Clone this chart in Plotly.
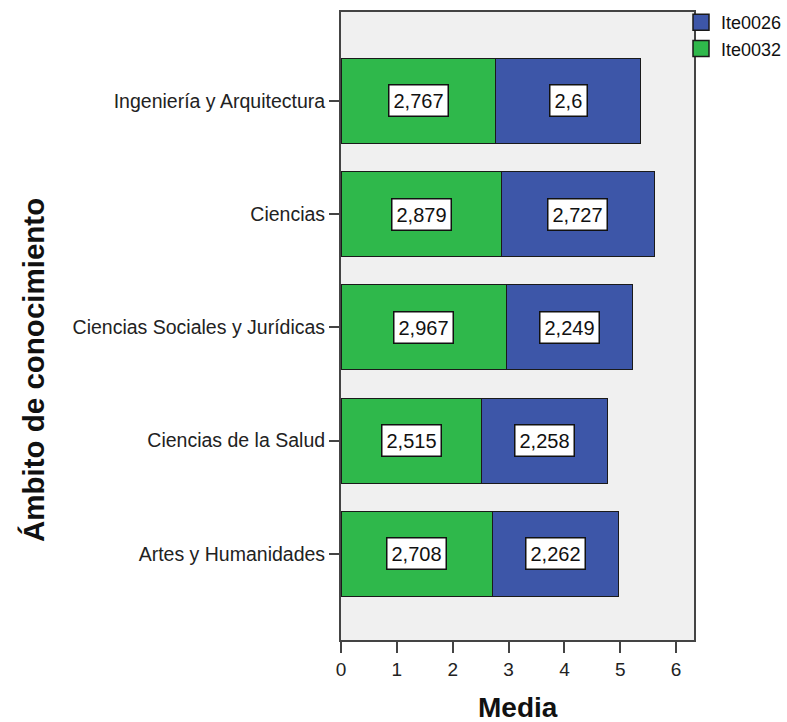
import plotly.graph_objects as go

categories = ["Artes y Humanidades", "Ciencias de la Salud", "Ciencias Sociales y Jurídicas",
              "Ciencias", "Ingeniería y Arquitectura"]
ite0032 = [2.708, 2.515, 2.967, 2.879, 2.767]
ite0026 = [2.262, 2.258, 2.249, 2.727, 2.6]
label32 = ["2,708", "2,515", "2,967", "2,879", "2,767"]
label26 = ["2,262", "2,258", "2,249", "2,727", "2,6"]
x_ticks = [0, 1, 2, 3, 4, 5, 6]

GREEN = "#2fb84b"
BLUE = "#3d56a8"
FONT = "Liberation Sans, Arial, sans-serif"

fig = go.Figure()
fig.add_trace(go.Bar(y=categories, x=ite0032, orientation="h", name="Ite0032",
                     marker=dict(color=GREEN, line=dict(color="#1a1a1a", width=1)),
                     width=0.75, showlegend=False, hoverinfo="skip"))
fig.add_trace(go.Bar(y=categories, x=ite0026, base=ite0032, orientation="h", name="Ite0026",
                     marker=dict(color=BLUE, line=dict(color="#1a1a1a", width=1)),
                     width=0.75, showlegend=False, hoverinfo="skip"))
# legend swatches (larger squares like the reference)
fig.add_trace(go.Scatter(x=[None], y=[None], mode="markers", name="Ite0026", legendrank=1,
                         marker=dict(symbol="square", size=16, color=BLUE,
                                     line=dict(color="#1a1a1a", width=1.5))))
fig.add_trace(go.Scatter(x=[None], y=[None], mode="markers", name="Ite0032", legendrank=2,
                         marker=dict(symbol="square", size=16, color=GREEN,
                                     line=dict(color="#1a1a1a", width=1.5))))

for c, a, b, la, lb in zip(categories, ite0032, ite0026, label32, label26):
    fig.add_annotation(x=a / 2, y=c, text=la, showarrow=False,
                       font=dict(family=FONT, size=20, color="#111"),
                       bgcolor="white", bordercolor="#111", borderwidth=1.5, borderpad=4)
    fig.add_annotation(x=a + b / 2, y=c, text=lb, showarrow=False,
                       font=dict(family=FONT, size=20, color="#111"),
                       bgcolor="white", bordercolor="#111", borderwidth=1.5, borderpad=4)

fig.add_annotation(xref="paper", yref="paper", x=(33 - 341) / 353, y=(640 - 370) / 628,
                   text="<b>Ámbito de conocimiento</b>",
                   textangle=-90, showarrow=False, xanchor="center", yanchor="middle",
                   font=dict(family=FONT, size=29.5, color="#111"))
fig.add_annotation(xref="paper", yref="paper", x=0.5, y=-(690 - 640) / 628, text="<b>Media</b>",
                   showarrow=False, xanchor="center", yanchor="top",
                   font=dict(family=FONT, size=28, color="#111"))

fig.update_layout(
    width=787, height=722,
    margin=dict(l=341, r=93, t=12, b=82, autoexpand=False),
    barmode="stack",
    plot_bgcolor="#f0f0f0", paper_bgcolor="white",
    font=dict(family=FONT, size=19, color="#222"),
    showlegend=True,
    legend=dict(xref="container", yref="container", x=1.0, y=1 - 4 / 722,
                xanchor="right", yanchor="top", bgcolor="rgba(0,0,0,0)",
                font=dict(family=FONT, size=18, color="#111"), itemsizing="trace",
                tracegroupgap=0, traceorder="normal", itemwidth=30),
    xaxis=dict(range=[0, 6.32], tickvals=x_ticks, ticks="outside", ticklen=11, tickwidth=2,
               tickcolor="#444", showgrid=False, zeroline=False, showline=True, mirror=True,
               linecolor="#444", linewidth=2, tickfont=dict(size=19, color="#222")),
    yaxis=dict(range=[-0.76, 4.784], ticks="outside", ticklen=10, tickwidth=2, tickcolor="#444",
               showgrid=False, zeroline=False, showline=True, mirror=True, linecolor="#444",
               linewidth=2, tickfont=dict(size=19.5, color="#222"), categoryorder="array",
               categoryarray=categories),
)

fig.write_html("out.html", config={"displayModeBar": False},
               post_script="document.body.style.margin='0';")
